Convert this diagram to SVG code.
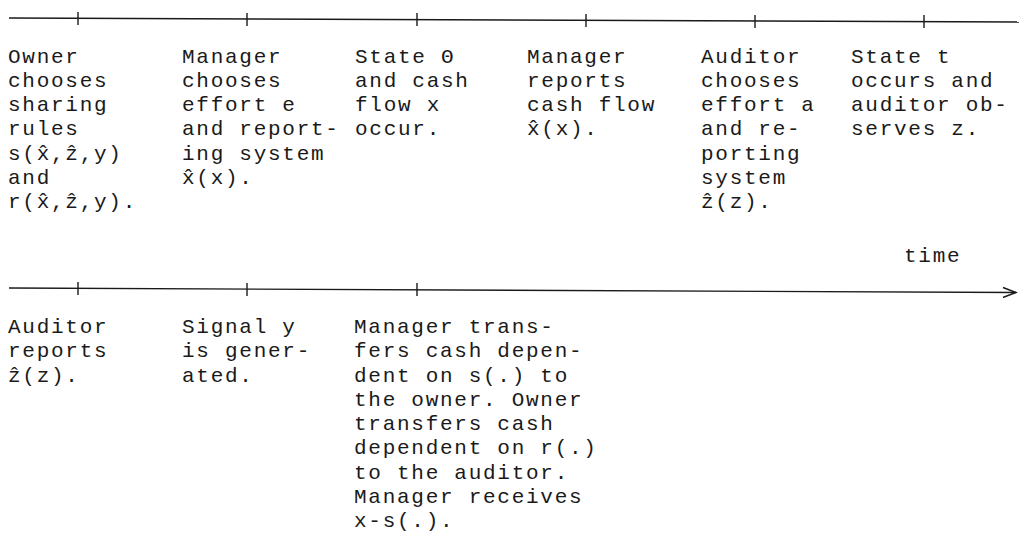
<svg xmlns="http://www.w3.org/2000/svg" width="1020" height="536" viewBox="0 0 1020 536">
<style>
  text { font-family: "Liberation Mono", "Courier New", monospace; font-size: 21px; letter-spacing: 1.73px; fill: #1a1a1a; }
  .axis { stroke: #1a1a1a; stroke-width: 1.4; fill: none; }
  .tick { stroke: #1a1a1a; stroke-width: 1.4; }
</style>
<defs>
  <marker id="openArrow" markerWidth="16" markerHeight="12" refX="14" refY="6" orient="auto" markerUnits="userSpaceOnUse">
    <path d="M1,1 L14,6 L1,11" fill="none" stroke="#1a1a1a" stroke-width="1.6"/>
  </marker>
</defs>
<rect width="1020" height="536" fill="#ffffff"/>
<g id="connectors">
  <line class="axis" x1="9" y1="18" x2="1019" y2="22"/>
  <line class="tick" x1="78" y1="12" x2="78" y2="25"/>
  <line class="tick" x1="247" y1="13" x2="247" y2="26"/>
  <line class="tick" x1="417" y1="13" x2="417" y2="26"/>
  <line class="tick" x1="586" y1="14" x2="586" y2="27"/>
  <line class="tick" x1="755" y1="15" x2="755" y2="28"/>
  <line class="tick" x1="924" y1="15" x2="924" y2="28"/>
  <line class="axis" x1="9" y1="288" x2="1016" y2="292.5" marker-end="url(#openArrow)"/>
  <line class="tick" x1="78" y1="282" x2="78" y2="295"/>
  <line class="tick" x1="247" y1="283" x2="247" y2="296"/>
  <line class="tick" x1="417" y1="283" x2="417" y2="296"/>
</g>
<g id="n1">
  <text x="8" y="63">Owner</text>
  <text x="8" y="87">chooses</text>
  <text x="8" y="111">sharing</text>
  <text x="8" y="135">rules</text>
  <text x="8" y="160">s(x&#x302;,&#x1E91;,y)</text>
  <text x="8" y="184">and</text>
  <text x="8" y="208">r(x&#x302;,&#x1E91;,y).</text>
</g>
<g id="n2">
  <text x="182" y="63">Manager</text>
  <text x="182" y="87">chooses</text>
  <text x="182" y="111">effort e</text>
  <text x="182" y="135">and report-</text>
  <text x="182" y="160">ing system</text>
  <text x="182" y="184">x&#x302;(x).</text>
</g>
<g id="n3">
  <text x="355" y="63">State &#x398;</text>
  <text x="355" y="87">and cash</text>
  <text x="355" y="111">flow x</text>
  <text x="355" y="135">occur.</text>
</g>
<g id="n4">
  <text x="527" y="63">Manager</text>
  <text x="527" y="87">reports</text>
  <text x="527" y="111">cash flow</text>
  <text x="527" y="135">x&#x302;(x).</text>
</g>
<g id="n5">
  <text x="701" y="63">Auditor</text>
  <text x="701" y="87">chooses</text>
  <text x="701" y="111">effort a</text>
  <text x="701" y="135">and re-</text>
  <text x="701" y="160">porting</text>
  <text x="701" y="184">system</text>
  <text x="701" y="208">&#x1E91;(z).</text>
</g>
<g id="n6">
  <text x="851" y="63">State t</text>
  <text x="851" y="87">occurs and</text>
  <text x="851" y="111">auditor ob-</text>
  <text x="851" y="135">serves z.</text>
</g>
<g id="time-label">
  <text x="904" y="262">time</text>
</g>
<g id="n7">
  <text x="8" y="333">Auditor</text>
  <text x="8" y="357">reports</text>
  <text x="8" y="382">&#x1E91;(z).</text>
</g>
<g id="n8">
  <text x="182" y="333">Signal y</text>
  <text x="182" y="357">is gener-</text>
  <text x="182" y="382">ated.</text>
</g>
<g id="n9">
  <text x="354" y="333">Manager trans-</text>
  <text x="354" y="357">fers cash depen-</text>
  <text x="354" y="382">dent on s(.) to</text>
  <text x="354" y="406">the owner. Owner</text>
  <text x="354" y="430">transfers cash</text>
  <text x="354" y="454">dependent on r(.)</text>
  <text x="354" y="479">to the auditor.</text>
  <text x="354" y="503">Manager receives</text>
  <text x="354" y="527">x-s(.).</text>
</g>
</svg>
